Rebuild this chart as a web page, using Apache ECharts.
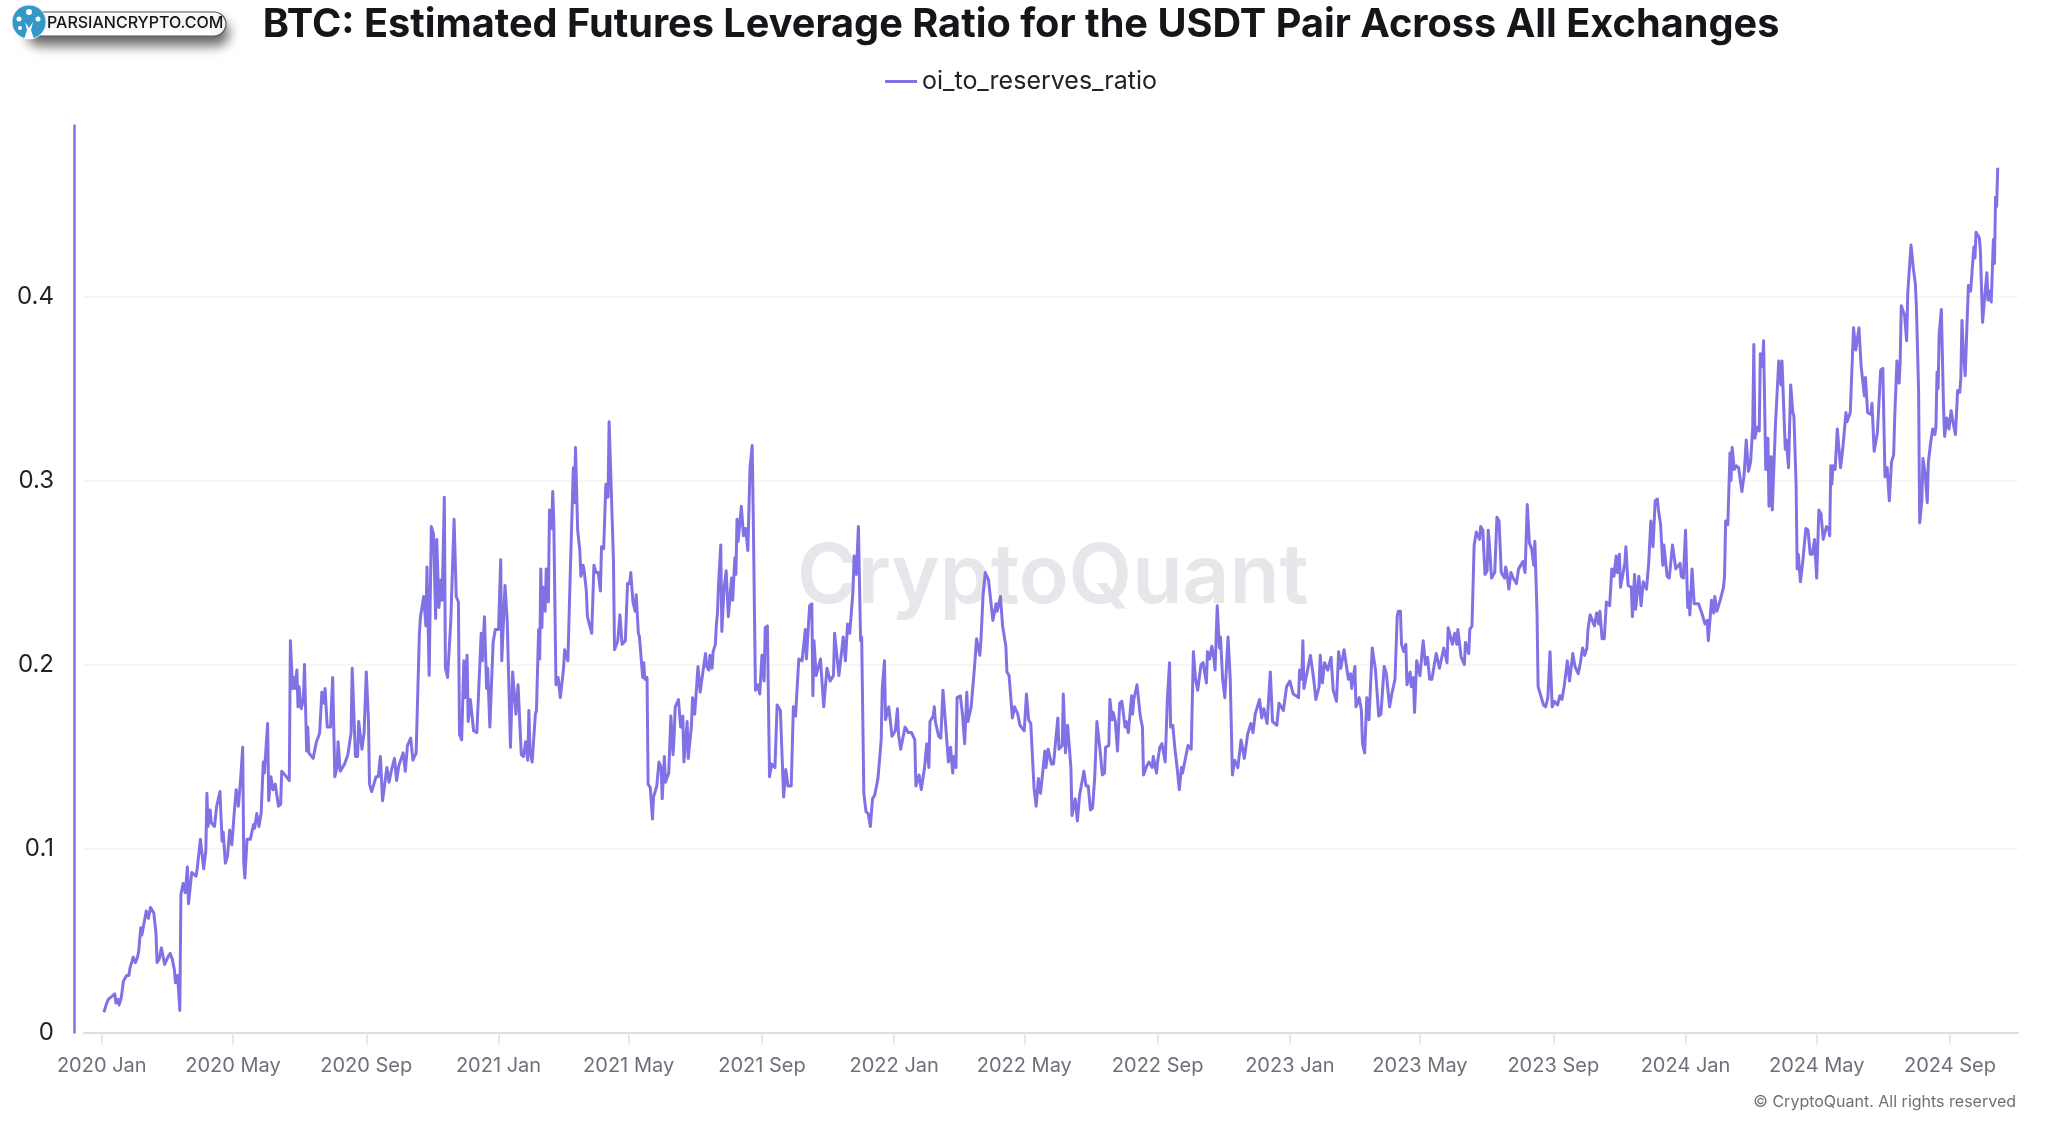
<!DOCTYPE html>
<html>
<head>
<meta charset="utf-8">
<style>html,body{margin:0;padding:0;background:#fff}#chart{width:2048px;height:1123px}</style>
<script src="https://cdn.jsdelivr.net/npm/echarts@6/dist/echarts.min.js"></script>
</head>
<body>
<div id="chart"></div>
<script>
const seriesName = 'oi_to_reserves_ratio'
const titleText = 'BTC: Estimated Futures Leverage Ratio for the USDT Pair Across All Exchanges'
const tickDates = ['2020-01-01','2020-05-01','2020-09-01','2021-01-01','2021-05-01','2021-09-01','2022-01-01','2022-05-01','2022-09-01','2023-01-01','2023-05-01','2023-09-01','2024-01-01','2024-05-01','2024-09-01']
const tickLabels = ['2020 Jan','2020 May','2020 Sep','2021 Jan','2021 May','2021 Sep','2022 Jan','2022 May','2022 Sep','2023 Jan','2023 May','2023 Sep','2024 Jan','2024 May','2024 Sep']
const yTicks = [0, 0.1, 0.2, 0.3, 0.4]

// days after 2020-01-01
const daysA = [2,4,6,7,12,13,15,16,18,19,20,23,25,26,27,29,31,33,34,35,36,37,41,43,45,48,50,51,53,55,56,58,61,63,65,67,68,70,72,73,74,75,77,79,80,83,85,87,88,91,92,94,96,97,98,100,101,104,106,107,109,111,112,114,116,118,120,122,124,126,128,130,131,132,134,137,140,141,143,145,147,149,150,153,154,156,158,160,163,165,166,169,173,174,176,177,178,180,181,182,184,186,187,189,190,191,195,198,200,201,203,205,206,208,211,213,215,217,218,220,224,227,230,231,234,236,237,240,242,244,246,247,249,253,255,257,259,261,263,265,267,270,272,274,278,280,282,285,287,290,293]
const ratioA = [.011,.015,.018,.017,.021,.016,.018,.015,.019,.018,.028,.031,.031,.035,.034,.041,.038,.041,.044,.045,.057,.053,.066,.062,.068,.065,.054,.038,.040,.046,.046,.037,.041,.043,.040,.034,.027,.031,.012,.075,.075,.081,.076,.090,.070,.087,.086,.085,.089,.105,.104,.089,.099,.130,.112,.121,.114,.112,.123,.123,.131,.104,.109,.092,.096,.110,.102,.118,.132,.123,.137,.155,.092,.084,.105,.105,.113,.111,.119,.112,.119,.147,.141,.168,.126,.139,.132,.135,.123,.124,.142,.140,.137,.213,.187,.193,.187,.197,.177,.188,.176,.181,.200,.153,.166,.152,.149,.158,.161,.163,.185,.179,.187,.166,.166,.193,.139,.144,.158,.142,.146,.151,.163,.198,.150,.150,.169,.154,.163,.196,.170,.135,.131,.139,.139,.150,.126,.135,.144,.136,.142,.149,.137,.145,.152,.142,.156,.160,.148,.152,.217]

const daysB = [294,297,299,300,302,304,306,308,309,311,313,314,316,317,319,322,325,327,329,330,332,334,335,337,338,340,343,346,350,351,353,355,356,358,361,363,366,368,369,372,374,377,379,382,384,385,387,389,391,393,394,395,397,400,401,403,404,405,406,407,409,410,412,413,415,416,417,419,421,423,426,427,430,432,435,436,437,439,441,442,444,445,447,448,452,454,456,458,460,461,463,465,467,468,470,472,473,476,478,480,483,485,487,488,490,492,493,495,496,499,500,501,503,504,506,508,509,512,514,516,517,519,520,523,524,525,527,528,529,532,534,536,537,540,541,544,545,547,550,552,555,557,558,560,561,563,564,566,567,568,569,571,572,574,576,578,581,582,584,585,586,587,590,592,594]
const ratioB = [.226,.237,.221,.253,.194,.275,.271,.225,.268,.231,.246,.235,.291,.198,.193,.224,.279,.237,.234,.162,.159,.202,.182,.205,.169,.181,.164,.163,.217,.202,.226,.187,.198,.166,.212,.219,.219,.257,.202,.243,.224,.155,.196,.173,.189,.189,.151,.150,.158,.148,.175,.154,.147,.173,.175,.219,.203,.252,.220,.242,.229,.252,.234,.284,.274,.294,.277,.189,.193,.182,.198,.208,.202,.246,.307,.288,.318,.273,.262,.248,.254,.251,.240,.226,.217,.254,.250,.250,.240,.264,.263,.298,.291,.332,.295,.257,.208,.213,.227,.211,.213,.244,.244,.250,.234,.229,.238,.217,.215,.193,.201,.192,.193,.135,.133,.116,.128,.134,.147,.144,.127,.150,.136,.141,.142,.172,.151,.161,.177,.181,.166,.172,.147,.169,.149,.167,.182,.173,.199,.185,.198,.206,.199,.197,.205,.198,.207,.211,.222,.228,.244,.265,.218,.241,.251,.226,.247,.235,.258,.249,.279,.267,.286,.270,.274]

const daysC = [596,598,599,600,601,603,605,607,609,611,612,614,616,618,621,623,626,629,631,633,636,638,640,643,646,649,650,653,655,656,657,659,663,666,669,670,672,675,676,680,684,686,688,690,693,694,696,698,700,701,703,705,707,709,711,713,716,719,720,722,723,726,729,732,734,735,737,741,744,747,750,751,754,756,759,761,763,764,767,768,769,772,774,776,777,779,781,783,785,786,788,789,792,794,796,798,799,802,805,807,810,811,813,815,818,822,825,826,829,831,834,835,837,840,842,845,847,851,853,855,857,860,862,864,866,870,871,873,876,878,880,882,883,886,887,889,891,894,895]
const ratioC = [.262,.307,.308,.319,.280,.186,.189,.184,.205,.191,.220,.221,.139,.146,.144,.178,.175,.128,.143,.134,.134,.177,.172,.203,.202,.219,.203,.232,.233,.183,.213,.194,.203,.177,.198,.199,.191,.194,.217,.194,.215,.202,.222,.217,.240,.259,.249,.275,.213,.215,.130,.120,.119,.112,.127,.129,.138,.159,.187,.202,.170,.177,.161,.164,.176,.162,.154,.166,.163,.163,.159,.134,.140,.132,.144,.157,.144,.169,.172,.177,.169,.161,.160,.186,.185,.163,.147,.155,.141,.150,.144,.182,.183,.173,.157,.185,.169,.177,.198,.214,.205,.213,.238,.250,.246,.224,.233,.229,.237,.221,.210,.196,.194,.171,.177,.173,.167,.164,.184,.170,.168,.133,.123,.138,.130,.153,.144,.154,.146,.146,.159,.171,.154,.156,.184,.152,.167,.144,.118]

const daysD = [898,900,902,906,908,910,912,914,916,917,918,921,923,925,926,929,930,932,933,935,937,939,941,944,945,947,950,951,952,955,958,960,961,964,966,969,970,973,974,976,978,981,983,985,986,988,990,992,994,996,997,1000,1002,1005,1007,1009,1011,1014,1016,1019,1020,1022,1024,1026,1027,1029,1031,1032,1034,1036,1039,1041,1043,1045,1048,1051,1054,1057,1060,1062,1064,1068,1070,1072,1075,1078,1080,1084,1086,1090,1093,1096,1099,1102,1104,1105,1107,1108,1109,1113,1115,1118,1120,1123,1124,1126,1128,1131,1134,1136,1139,1141,1143,1146,1150,1152,1153,1156,1157,1160,1162,1163,1165,1167,1169,1172,1175,1178,1180,1183,1185,1188,1190,1193,1195,1196]
const ratioD = [.127,.115,.129,.142,.134,.134,.121,.122,.139,.139,.169,.153,.140,.141,.155,.156,.181,.170,.174,.169,.153,.179,.180,.166,.169,.163,.183,.173,.181,.189,.172,.166,.140,.145,.147,.144,.150,.141,.147,.155,.157,.147,.181,.201,.166,.167,.154,.144,.132,.144,.141,.150,.156,.154,.207,.192,.186,.200,.201,.190,.207,.203,.210,.203,.197,.232,.209,.215,.192,.182,.215,.192,.140,.148,.144,.159,.149,.162,.168,.163,.173,.181,.171,.176,.168,.196,.169,.167,.179,.175,.188,.191,.184,.183,.182,.197,.192,.213,.187,.199,.205,.192,.181,.188,.205,.190,.201,.197,.204,.186,.180,.207,.198,.208,.192,.195,.187,.199,.177,.182,.175,.157,.152,.182,.170,.209,.197,.172,.173,.199,.195,.177,.184,.192,.226,.229]

const daysE = [1198,1199,1201,1203,1204,1207,1208,1210,1211,1213,1216,1219,1221,1223,1225,1227,1231,1234,1238,1241,1242,1246,1248,1250,1251,1254,1257,1258,1261,1262,1264,1266,1268,1271,1272,1274,1276,1278,1279,1280,1282,1285,1287,1289,1291,1294,1295,1296,1298,1300,1302,1305,1307,1311,1313,1315,1317,1319,1321,1322,1324,1325,1327,1330,1332,1334,1336,1338,1340,1343,1345,1347,1349,1352,1354,1357,1359,1362,1364,1366,1368,1370,1371,1373,1377,1379,1381,1382,1384,1386,1388,1391,1393,1395,1397,1398,1400,1401,1405,1406,1408,1411,1412,1414,1415,1418,1420,1422,1425,1427,1429,1431,1433,1435,1436,1438,1440,1441,1444,1446,1449,1452,1456,1457,1459,1461,1463,1464,1465,1467,1469,1473,1476,1479,1481,1482,1485,1487,1488,1490,1493,1496]
const ratioE = [.229,.211,.207,.211,.189,.196,.188,.193,.174,.202,.194,.213,.200,.204,.192,.192,.206,.198,.209,.201,.220,.211,.217,.211,.219,.204,.200,.212,.206,.219,.221,.265,.272,.268,.275,.273,.249,.251,.273,.266,.247,.250,.280,.278,.250,.247,.253,.251,.241,.250,.247,.244,.252,.256,.250,.287,.266,.263,.254,.267,.228,.188,.184,.178,.177,.182,.207,.177,.180,.178,.183,.181,.188,.202,.191,.206,.199,.195,.201,.209,.205,.209,.219,.227,.221,.228,.222,.229,.214,.214,.234,.232,.252,.248,.259,.250,.260,.242,.255,.264,.243,.242,.226,.249,.230,.248,.232,.245,.241,.255,.278,.264,.289,.290,.284,.276,.254,.265,.248,.247,.265,.252,.255,.248,.247,.273,.231,.239,.227,.252,.233,.233,.228,.222,.224,.213,.235,.228,.237,.229,.235,.242]

const daysF = [1497,1498,1500,1502,1503,1504,1506,1508,1510,1513,1515,1517,1519,1521,1523,1524,1525,1527,1529,1530,1532,1533,1535,1537,1538,1540,1541,1544,1547,1549,1550,1553,1554,1556,1558,1560,1561,1563,1564,1565,1567,1569,1572,1574,1576,1578,1580,1582,1584,1586,1588,1591,1593,1594,1595,1596,1597,1599,1601,1604,1606,1609,1610,1613,1614,1616,1618,1621,1623,1626,1627,1629,1632,1633,1635,1638,1641,1643,1645,1647,1649,1651,1653,1654,1656,1658,1659,1660,1663,1665,1666,1669,1671,1673,1674,1676,1677,1679,1680,1682,1684,1685,1687,1689,1691,1692,1693,1694,1695,1697,1699,1700,1702,1704,1706,1708,1710,1712,1714,1715,1716,1717,1719,1721,1722,1724,1727,1728,1729,1732,1733,1735,1737,1739,1740,1742,1743,1745,1746,1747,1748,1749]
const ratioF = [.248,.278,.276,.315,.300,.318,.306,.308,.307,.294,.303,.322,.305,.310,.329,.374,.323,.329,.327,.369,.362,.376,.306,.323,.286,.313,.284,.331,.365,.352,.365,.317,.322,.307,.352,.337,.335,.298,.252,.260,.245,.255,.274,.273,.260,.260,.268,.247,.284,.282,.268,.275,.274,.270,.308,.298,.308,.306,.328,.307,.317,.337,.332,.337,.353,.383,.371,.383,.362,.346,.356,.337,.336,.342,.316,.326,.360,.361,.302,.307,.289,.310,.314,.335,.365,.353,.364,.395,.390,.376,.402,.428,.416,.407,.394,.349,.277,.289,.312,.304,.288,.310,.320,.328,.325,.329,.359,.350,.380,.393,.340,.324,.334,.328,.338,.331,.325,.349,.348,.356,.387,.373,.357,.391,.406,.403,.427,.421,.435,.432,.425,.386,.400,.413,.398,.403,.397,.431,.418,.454,.449,.470]

const DAY = 86400000
const startDate = Date.UTC(2020, 0, 1)
const allDays = [...daysA, ...daysB, ...daysC, ...daysD, ...daysE, ...daysF]
const allRatio = [...ratioA, ...ratioB, ...ratioC, ...ratioD, ...ratioE, ...ratioF]
const lineData = allDays.map((d, i) => [d, allRatio[i]])
const tickDays = tickDates.map(d => (Date.parse(d) - startDate) / DAY)

const lineColor = '#8072e5'
const fontFamily = 'Inter, "Noto Sans", sans-serif'

const chart = echarts.init(document.getElementById('chart'), null, { renderer: 'canvas', width: 2048, height: 1123 })

chart.setOption({
  backgroundColor: '#ffffff',
  animation: false,
  title: {
    text: titleText,
    left: 1016,
    textAlign: 'center',
    top: 0,
    textStyle: { fontFamily, fontSize: 39.7, fontWeight: 700, color: '#16161a' },
  },
  legend: {
    left: 885,
    top: 69,
    padding: 0,
    icon: 'rect',
    itemWidth: 32,
    itemHeight: 3,
    textStyle: { fontFamily, fontSize: 25, color: '#222228' },
    data: [seriesName],
  },
  grid: { left: 84, right: 30, top: 125.5, bottom: 90.5 },
  xAxis: {
    type: 'value',
    min: -16.4,
    max: 1767.7,
    axisLine: { lineStyle: { color: '#dddde3', width: 2 } },
    axisTick: { show: true, customValues: tickDays, length: 12, lineStyle: { color: '#e2e2e8', width: 1.5 } },
    axisLabel: {
      customValues: tickDays,
      formatter: (v) => tickLabels[tickDays.indexOf(+v)],
      fontFamily,
      fontSize: 20,
      color: '#6f6f79',
      margin: 23,
      hideOverlap: false,
    },
    splitLine: { show: false },
  },
  yAxis: {
    type: 'value',
    min: 0,
    max: 0.493,
    offset: 10,
    axisLine: { show: true, onZero: false, lineStyle: { color: lineColor, width: 2.5 } },
    axisTick: { show: false, customValues: yTicks },
    axisLabel: { customValues: yTicks, fontFamily, fontSize: 24, color: '#222228', margin: 20 },
    splitLine: { show: true, lineStyle: { color: '#f3f3f6', width: 1.5 } },
  },
  graphic: [
    {
      type: 'text', left: 797, top: 537, z: 0, silent: true,
      style: { text: 'CryptoQuant', fontFamily, fontSize: 82, fontWeight: 600, fill: '#e6e6eb' },
    },
    {
      type: 'text', right: 32, top: 1094, z: 5,
      style: { text: '© CryptoQuant. All rights reserved', fontFamily, fontSize: 16, fill: '#6f6f79' },
    },
    // badge in the corner
    {
      type: 'rect', z: 5, shape: { x: 26, y: 12, width: 200, height: 24, r: 12 },
      style: { fill: '#ffffff', stroke: '#55555c', lineWidth: 1.2, shadowBlur: 12, shadowOffsetY: 9, shadowOffsetX: 2, shadowColor: 'rgba(0,0,0,0.6)' },
    },
    {
      type: 'text', z: 6, left: 47, top: 15,
      style: { text: 'PARSIANCRYPTO.COM', fontFamily, fontSize: 16, fontWeight: 500, fill: '#16161a' },
    },
    { type: 'circle', z: 6, shape: { cx: 29, cy: 22, r: 17 }, style: { fill: '#3597c7', stroke: '#dfeef5', lineWidth: 1 } },
    { type: 'polygon', z: 7, shape: { points: [[24, 39], [34, 39], [31, 30], [33, 22], [29, 28], [25, 22], [27, 30]] }, style: { fill: '#ffffff' } },
    { type: 'circle', z: 7, shape: { cx: 29, cy: 12, r: 3 }, style: { fill: '#ffffff' } },
    { type: 'circle', z: 7, shape: { cx: 19, cy: 19, r: 2.5 }, style: { fill: '#ffffff' } },
    { type: 'circle', z: 7, shape: { cx: 38, cy: 19, r: 2.5 }, style: { fill: '#ffffff' } },
    { type: 'circle', z: 7, shape: { cx: 20, cy: 28, r: 2 }, style: { fill: '#ffffff' } },
  ],
  series: [{
    name: seriesName,
    type: 'line',
    data: lineData,
    showSymbol: false,
    symbol: 'none',
    sampling: false,
    lineStyle: { color: lineColor, width: 3, join: 'round' },
    itemStyle: { color: lineColor },
  }],
})
</script>
</body>
</html>
